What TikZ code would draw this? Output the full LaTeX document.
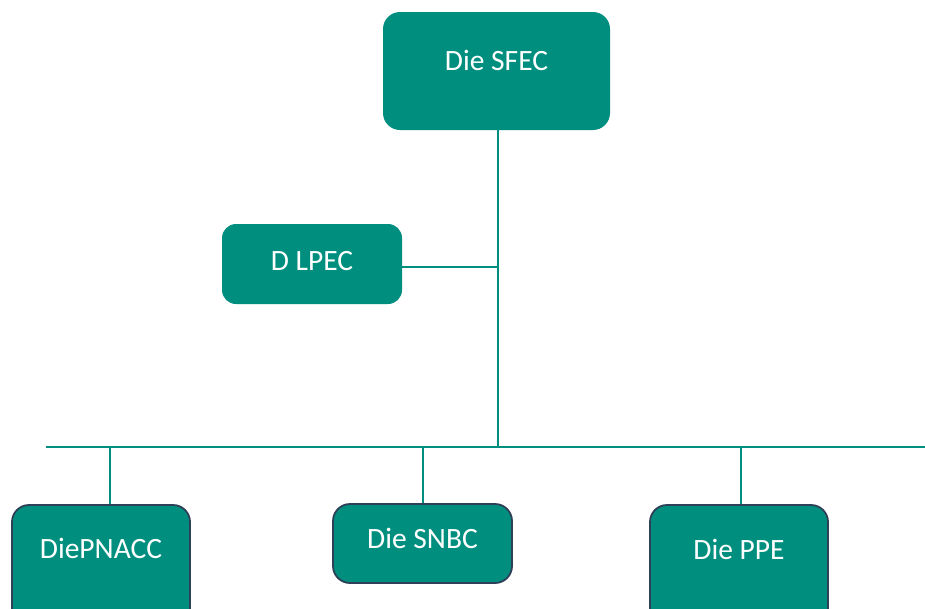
\documentclass[tikz,border=0pt]{standalone}
\usepackage{fontspec}
\setmainfont{Carlito}
\definecolor{teal1}{RGB}{0,143,127}
\definecolor{edge1}{RGB}{46,64,87}
\newcommand{\upby}[2]{\raisebox{#1}[\height][\depth]{#2}}
\tikzset{
  topbox/.style={fill=teal1, draw=none, rounded corners=17pt, text=white,
    font=\fontsize{29.5}{34}\selectfont, inner sep=0pt},
  lowbox/.style={fill=teal1, draw=edge1, line width=1.8pt, rounded corners=17pt, text=white,
    font=\fontsize{29.5}{34}\selectfont, inner sep=0pt},
  link/.style={draw=teal1, line width=1.8pt}
}
\begin{document}
\begin{tikzpicture}[x=1pt,y=-1pt]
\useasboundingbox (0,0) rectangle (925,608);
\node[topbox, minimum width=227pt, minimum height=118pt] (sfec) at (496.5,71) {\upby{11pt}{Die SFEC}};
\node[topbox, minimum width=180pt, minimum height=80pt, rounded corners=14pt] (lpec) at (312,264) {\upby{3pt}{D LPEC}};
\node[lowbox, minimum width=178pt, minimum height=120pt] (pnacc) at (101,565) {\upby{17pt}{DiePNACC}};
\node[lowbox, minimum width=179pt, minimum height=79pt] (snbc) at (422.5,543.5) {\upby{5pt}{Die SNBC}};
\node[lowbox, minimum width=178pt, minimum height=120pt] (ppe) at (739,565) {\upby{16pt}{Die PPE}};
\coordinate (junc) at (498,447);
\coordinate (busL) at (46,447);
\coordinate (busR) at (925,447);
\coordinate (s1) at (110,447);
\coordinate (s2) at (423,447);
\coordinate (s3) at (741,447);
\draw[link] (sfec.south -| junc) -- (junc);
\draw[link] ([yshift=-3pt]lpec.east) -- ([yshift=-3pt]lpec.east -| junc);
\draw[link] (busL) -- (busR);
\draw[link] (s1) -- (s1 |- pnacc.north);
\draw[link] (s2) -- (s2 |- snbc.north);
\draw[link] (s3) -- (s3 |- ppe.north);
\end{tikzpicture}
\end{document}
